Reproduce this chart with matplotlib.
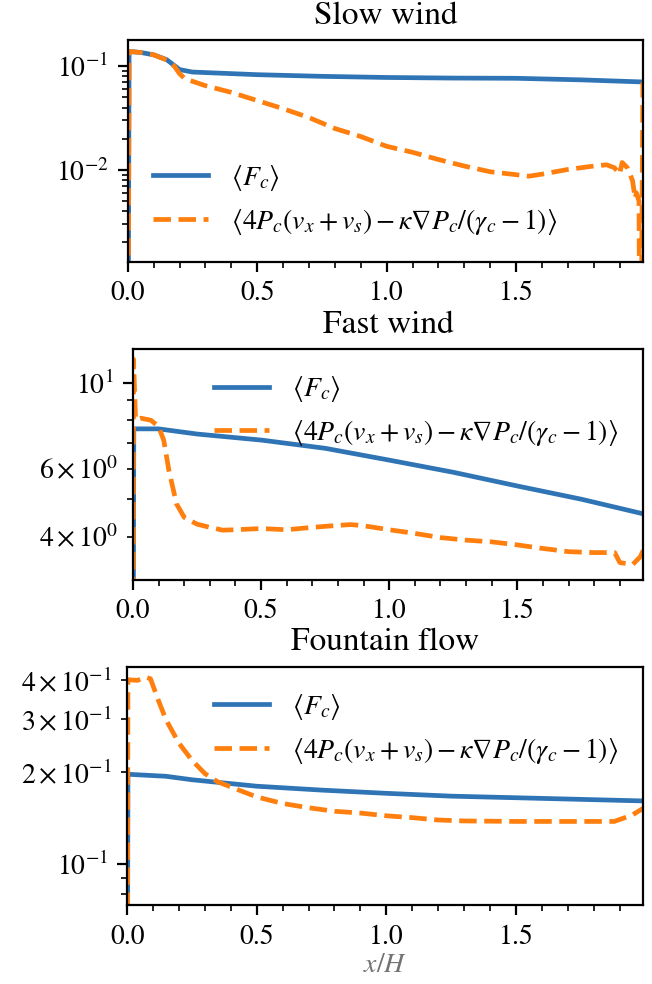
import numpy as np
import matplotlib
matplotlib.use('Agg')
from matplotlib import pyplot as plt
from matplotlib.ticker import MultipleLocator, FuncFormatter, NullFormatter

plt.rcParams['font.family'] = ['STIXGeneral', 'DejaVu Serif']
plt.rcParams['mathtext.fontset'] = 'stix'
plt.rcParams['font.size'] = 10

# Slow wind
x_slow_fc = [0.0, 0.005, 0.05, 0.1, 0.15, 0.2, 0.25, 0.5, 0.75, 1.0, 1.25, 1.5, 1.75, 1.99]
y_slow_fc = [1e-5, 0.139, 0.136, 0.129, 0.116, 0.093, 0.088, 0.083, 0.080, 0.078, 0.077, 0.0766, 0.074, 0.0706]
x_slow_fl = [0.0, 0.005, 0.05, 0.1, 0.15, 0.18, 0.2, 0.22, 0.3, 0.4, 0.5, 0.6, 0.7, 0.8, 0.9,
             1.0, 1.1, 1.2, 1.3, 1.4, 1.5, 1.55, 1.6, 1.7, 1.8, 1.85, 1.88, 1.9, 1.91, 1.93,
             1.95, 1.96, 1.965, 1.975, 1.98, 1.99]
y_slow_fl = [1e-5, 0.139, 0.136, 0.129, 0.115, 0.100, 0.085, 0.076, 0.065, 0.056, 0.0467, 0.039,
             0.032, 0.0251, 0.021, 0.0169, 0.0148, 0.0126, 0.0109, 0.0096, 0.0090, 0.0087, 0.0091,
             0.0101, 0.0109, 0.0112, 0.0105, 0.0091, 0.0118, 0.0105, 0.0079, 0.0053, 0.006,
             0.005, 1e-5, 0.07]

# Fast wind
x_fast_fc = [0.0, 0.003, 0.1, 0.25, 0.5, 0.75, 1.0, 1.25, 1.5, 1.75, 2.0]
y_fast_fc = [1.0, 7.6, 7.6, 7.37, 7.11, 6.77, 6.31, 5.87, 5.41, 5.0, 4.57]
x_fast_fl = [0.0, 0.002, 0.01, 0.03, 0.07, 0.1, 0.12, 0.14, 0.17, 0.2, 0.25, 0.3, 0.35, 0.4,
             0.5, 0.6, 0.7, 0.8, 0.85, 0.9, 1.0, 1.1, 1.2, 1.3, 1.4, 1.5, 1.6, 1.7, 1.8,
             1.88, 1.9, 1.95, 1.98, 2.0]
y_fast_fl = [1.0, 11.5, 8.03, 8.1, 8.0, 7.7, 7.1, 5.94, 4.86, 4.49, 4.31, 4.23, 4.16, 4.17,
             4.2, 4.17, 4.23, 4.28, 4.3, 4.27, 4.17, 4.08, 3.98, 3.92, 3.88, 3.81, 3.73, 3.66,
             3.64, 3.64, 3.43, 3.39, 3.55, 3.8]

# Fountain flow
x_foun_fc = [0.0, 0.003, 0.1, 0.15, 0.25, 0.5, 0.75, 1.0, 1.25, 1.5, 1.75, 2.0]
y_foun_fc = [0.01, 0.197, 0.195, 0.194, 0.189, 0.180, 0.1748, 0.1706, 0.167, 0.165, 0.163, 0.161]
x_foun_fl = [0.0, 0.003, 0.04, 0.07, 0.09, 0.12, 0.15, 0.2, 0.25, 0.3, 0.35, 0.4, 0.5, 0.6,
             0.7, 0.8, 0.9, 1.0, 1.1, 1.2, 1.3, 1.5, 1.7, 1.88, 1.95, 2.0]
y_foun_fl = [0.01, 0.402, 0.40, 0.41, 0.405, 0.345, 0.297, 0.249, 0.219, 0.198, 0.186, 0.179,
             0.166, 0.158, 0.153, 0.149, 0.147, 0.144, 0.142, 0.1395, 0.1385, 0.138, 0.138,
             0.138, 0.145, 0.154]

lab_fc = r'$\langle F_c \rangle$'
lab_fl = r'$\langle 4P_c(v_x+v_s)-\kappa\nabla P_c/(\gamma_c-1)\rangle$'

fig = plt.figure(figsize=(3.26, 4.92), dpi=200)
ax1 = fig.add_axes([0.196, 0.734, 0.790, 0.225])
ax2 = fig.add_axes([0.204, 0.411, 0.782, 0.234])
ax3 = fig.add_axes([0.195, 0.080, 0.791, 0.242])

panels = [
    (ax1, 'Slow wind', x_slow_fc, y_slow_fc, x_slow_fl, y_slow_fl, (1.3e-3, 0.178), 'lower left'),
    (ax2, 'Fast wind', x_fast_fc, y_fast_fc, x_fast_fl, y_fast_fl, (3.1, 12.2), 'upper right'),
    (ax3, 'Fountain flow', x_foun_fc, y_foun_fc, x_foun_fl, y_foun_fl, (0.0733, 0.442), 'upper right'),
]

for ax, title, xa, ya, xb, yb, ylim, loc in panels:
    ax.plot(xa, ya, color='#2f74b5', lw=1.7, label=lab_fc)
    ax.plot(xb, yb, color='#ff7f0e', lw=1.7, ls='--', label=lab_fl)
    ax.set_yscale('log')
    ax.set_ylim(ylim)
    ax.set_xlim(0, 1.99)
    ax.xaxis.set_major_locator(MultipleLocator(0.5))
    ax.xaxis.set_minor_locator(MultipleLocator(0.1))
    ax.set_title(title)
    ax.legend(loc=loc, frameon=False)


def sci_minor(keep):
    def f(v, pos):
        m = v / 10 ** np.floor(np.log10(v) + 1e-9)
        e = int(np.floor(np.log10(v) + 1e-9))
        if round(m) in keep:
            return r'$\mathdefault{%d\times10^{%d}}$' % (round(m), e)
        return ''
    return FuncFormatter(f)


ax1.yaxis.set_minor_formatter(NullFormatter())
ax2.yaxis.set_minor_formatter(sci_minor([4, 6]))
ax3.yaxis.set_minor_formatter(sci_minor([2, 3, 4]))

ax3.set_xlabel(r'$x/H$', color='0.45', labelpad=1)

fig.savefig('out.png', dpi=200)
